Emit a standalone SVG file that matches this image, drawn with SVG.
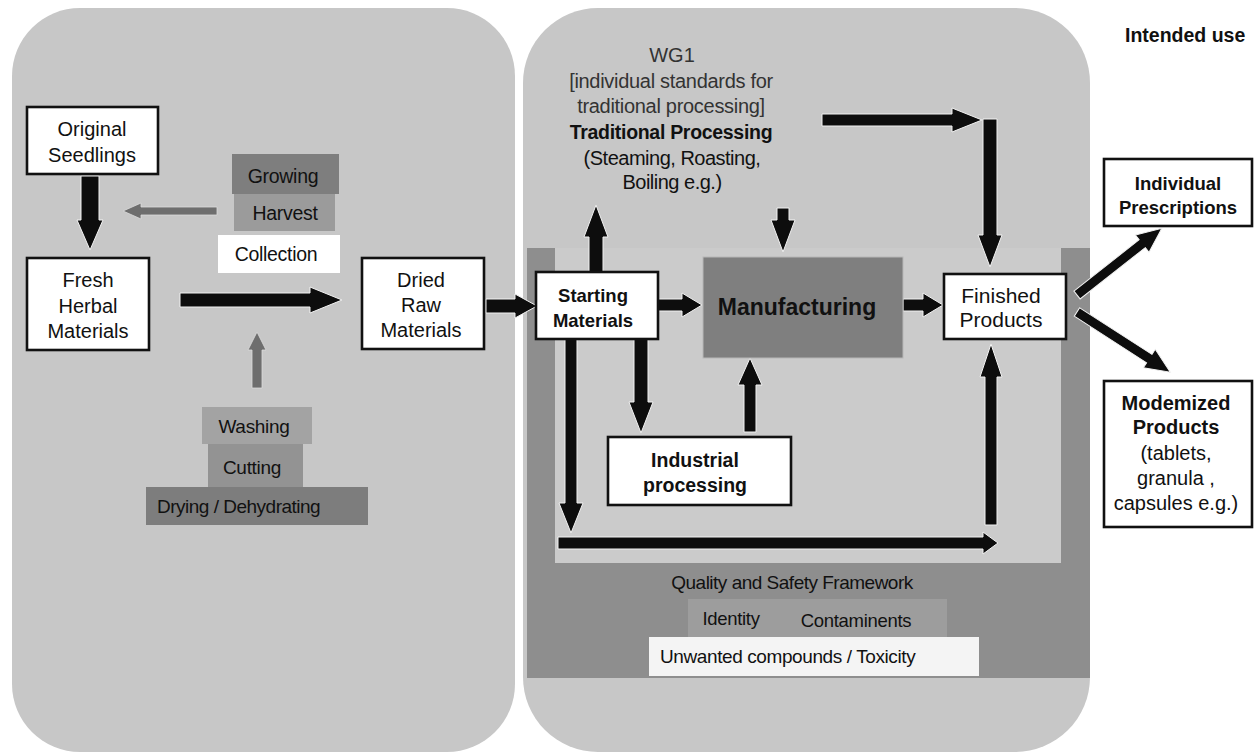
<svg xmlns="http://www.w3.org/2000/svg" width="1255" height="755" viewBox="0 0 1255 755">
  <defs>
    <style>
      text { font-family: "Liberation Sans", Arial, sans-serif; fill: #111; }
      .c { text-anchor: middle; }
      .b { font-weight: bold; }
      .box { fill: #ffffff; stroke: #111; stroke-width: 2.6; }
      .arr { fill: #0d0d0d; stroke: #f2f2f2; stroke-width: 1; stroke-linejoin: miter; }
      .garr { fill: #6e6e6e; stroke: #dcdcdc; stroke-width: 0.8; }
    </style>
  </defs>
  <rect width="1255" height="755" fill="#ffffff"/>

  <g id="panels">
    <rect x="12" y="8" width="503" height="744" rx="68" ry="68" fill="#c7c7c7"/>
    <rect x="523" y="8" width="567" height="744" rx="75" ry="75" fill="#c7c7c7"/>
    <rect x="527" y="248" width="563" height="430" fill="#8e8e8e"/>
    <rect x="555" y="248" width="506" height="315" fill="#cbcbcb"/>
  </g>

  <g id="framework">
    <text class="c" x="792" y="589" font-size="19" letter-spacing="-0.5">Quality and Safety Framework</text>
    <rect x="688" y="599" width="259" height="38" fill="#9d9d9d"/>
    <text class="c" x="731" y="625" font-size="18.5" letter-spacing="-0.3">Identity</text>
    <text class="c" x="856" y="627" font-size="18.5" letter-spacing="-0.3">Contaminents</text>
    <rect x="649" y="637" width="330" height="39" fill="#f4f4f4"/>
    <text x="660" y="663" font-size="19" letter-spacing="-0.4">Unwanted compounds / Toxicity</text>
  </g>

  <g id="connectors">
    <!-- Seedlings -> Fresh -->
    <polygon class="arr" points="81,176 99,176 99,220 103,220 90,250 77,220 81,220"/>
    <!-- Growing/Harvest -> left -->
    <polygon class="garr" points="217,207 141,207 141,203 123,211 141,219 141,215 217,215"/>
    <!-- Fresh -> Dried -->
    <polygon class="arr" points="180,293 310,293 310,287 342,300 310,313 310,307 180,307"/>
    <!-- Washing up -->
    <polygon class="garr" points="252,388 252,350 248,350 257,332 266,350 262,350 262,388"/>
    <!-- Dried -> Starting -->
    <polygon class="arr" points="486,299 515,299 515,294 537,306 515,318 515,313 486,313"/>
    <!-- Starting -> Manufacturing -->
    <polygon class="arr" points="658,299 682,299 682,293 702,305 682,317 682,311 658,311"/>
    <!-- Manufacturing -> Finished -->
    <polygon class="arr" points="903,299 923,299 923,293 943,305 923,317 923,311 903,311"/>
    <!-- Starting -> up (Traditional) -->
    <polygon class="arr" points="589,272 589,237 584,237 596,205 608,237 603,237 603,272"/>
    <!-- down into Manufacturing -->
    <polygon class="arr" points="777,208 789,208 789,220 795,220 783,252 771,220 777,220"/>
    <!-- top horizontal -->
    <polygon class="arr" points="822,114 952,114 952,108 982,120 952,132 952,126 822,126"/>
    <!-- vertical down to Finished -->
    <polygon class="arr" points="983,119 997,119 997,235 1002,235 990,267 978,235 983,235"/>
    <!-- Starting -> Industrial -->
    <polygon class="arr" points="634,339 648,339 648,402 653,402 641,433 629,402 634,402"/>
    <!-- Industrial -> Manufacturing -->
    <polygon class="arr" points="744,432 744,385 738,385 750,358 762,385 756,385 756,432"/>
    <!-- long left vertical -->
    <polygon class="arr" points="565,339 577,339 577,503 583,503 571,533 559,503 565,503"/>
    <!-- bottom horizontal -->
    <polygon class="arr" points="558,537 983,537 983,532 998,543 983,554 983,549 558,549"/>
    <!-- up to Finished -->
    <polygon class="arr" points="985,525 985,377 980,377 991,344 1002,377 997,377 997,525"/>
    <!-- Finished -> Individual Prescriptions -->
    <polygon class="arr" points="0,-5 83,-5 83,-11 108,0 83,11 83,5 0,5" transform="translate(1077,295) rotate(-38.2)"/>
    <!-- Finished -> Modernized -->
    <polygon class="arr" points="0,-5 86,-5 86,-11 111,0 86,11 86,5 0,5" transform="translate(1077,312) rotate(32.8)"/>
  </g>

  <g id="original-seedlings">
    <rect class="box" x="27" y="107" width="131" height="67" stroke-width="3"/>
    <text class="c" x="92" y="136" font-size="20">Original</text>
    <text class="c" x="92" y="162" font-size="20">Seedlings</text>
  </g>

  <g id="growing-steps">
    <rect x="232" y="154" width="107" height="40" fill="#7e7e7e"/>
    <text class="c" x="283" y="183" font-size="19.5" letter-spacing="-0.3">Growing</text>
    <rect x="234" y="194" width="101" height="37" fill="#9b9b9b"/>
    <text class="c" x="285" y="220" font-size="19.5" letter-spacing="-0.3">Harvest</text>
    <rect x="218" y="235" width="122" height="38" fill="#ffffff"/>
    <text class="c" x="276" y="261" font-size="19.5" letter-spacing="-0.3">Collection</text>
  </g>

  <g id="fresh-herbal-materials">
    <rect class="box" x="27" y="258" width="122" height="92" stroke-width="3"/>
    <text class="c" x="88" y="287" font-size="20">Fresh</text>
    <text class="c" x="88" y="313" font-size="20">Herbal</text>
    <text class="c" x="88" y="338" font-size="20">Materials</text>
  </g>

  <g id="drying-steps">
    <rect x="202" y="407" width="110" height="37" fill="#a3a3a3"/>
    <text class="c" x="254" y="433" font-size="19" letter-spacing="-0.3">Washing</text>
    <rect x="208" y="444" width="95" height="43" fill="#939393"/>
    <text class="c" x="252" y="474" font-size="19" letter-spacing="-0.3">Cutting</text>
    <rect x="146" y="487" width="222" height="38" fill="#7d7d7d"/>
    <text x="157" y="513" font-size="19" letter-spacing="-0.5">Drying / Dehydrating</text>
  </g>

  <g id="dried-raw-materials">
    <rect class="box" x="362" y="258" width="122" height="91"/>
    <text class="c" x="421" y="287" font-size="20">Dried</text>
    <text class="c" x="421" y="312" font-size="20">Raw</text>
    <text class="c" x="421" y="337" font-size="20">Materials</text>
  </g>

  <g id="traditional-processing">
    <text class="c" x="672" y="62" font-size="20" fill="#333" style="fill:#333">WG1</text>
    <text class="c" x="671" y="88" font-size="20" letter-spacing="-0.3" style="fill:#333">[individual standards for</text>
    <text class="c" x="671" y="113" font-size="20" letter-spacing="-0.3" style="fill:#333">traditional processing]</text>
    <text class="c b" x="671" y="139" font-size="19.5" letter-spacing="-0.3">Traditional Processing</text>
    <text class="c" x="672" y="165" font-size="20" letter-spacing="-0.5">(Steaming, Roasting,</text>
    <text class="c" x="672" y="189" font-size="20" letter-spacing="-0.5">Boiling e.g.)</text>
  </g>

  <g id="starting-materials">
    <rect class="box" x="536" y="272" width="122" height="67"/>
    <text class="c b" x="593" y="302" font-size="18.5">Starting</text>
    <text class="c b" x="593" y="327" font-size="18.5">Materials</text>
  </g>

  <g id="manufacturing">
    <rect x="703" y="257" width="200" height="101" fill="#7f7f7f" stroke="#b8b8b8" stroke-width="1"/>
    <text class="c b" x="797" y="315" font-size="23">Manufacturing</text>
  </g>

  <g id="finished-products">
    <rect class="box" x="944" y="274" width="122" height="65"/>
    <text class="c" x="1001" y="303" font-size="21">Finished</text>
    <text class="c" x="1001" y="327" font-size="21">Products</text>
  </g>

  <g id="industrial-processing">
    <rect class="box" x="608" y="437" width="183" height="68"/>
    <text class="c b" x="695" y="467" font-size="19.5">Industrial</text>
    <text class="c b" x="695" y="492" font-size="19.5">processing</text>
  </g>

  <g id="intended-use">
    <text x="1125" y="42" font-size="19.5" class="b">Intended use</text>
  </g>

  <g id="individual-prescriptions">
    <rect class="box" x="1104" y="159" width="148" height="67" stroke-width="2.2"/>
    <text class="c b" x="1178" y="190" font-size="18.5">Individual</text>
    <text class="c b" x="1178" y="214" font-size="18.5">Prescriptions</text>
  </g>

  <g id="modernized-products">
    <rect class="box" x="1104" y="381" width="148" height="146" stroke-width="1.6"/>
    <text class="c b" x="1176" y="410" font-size="20">Modemized</text>
    <text class="c b" x="1176" y="434" font-size="20">Products</text>
    <text class="c" x="1176" y="460" font-size="20">(tablets,</text>
    <text class="c" x="1176" y="485" font-size="20">granula ,</text>
    <text class="c" x="1176" y="510" font-size="20">capsules e.g.)</text>
  </g>
</svg>
